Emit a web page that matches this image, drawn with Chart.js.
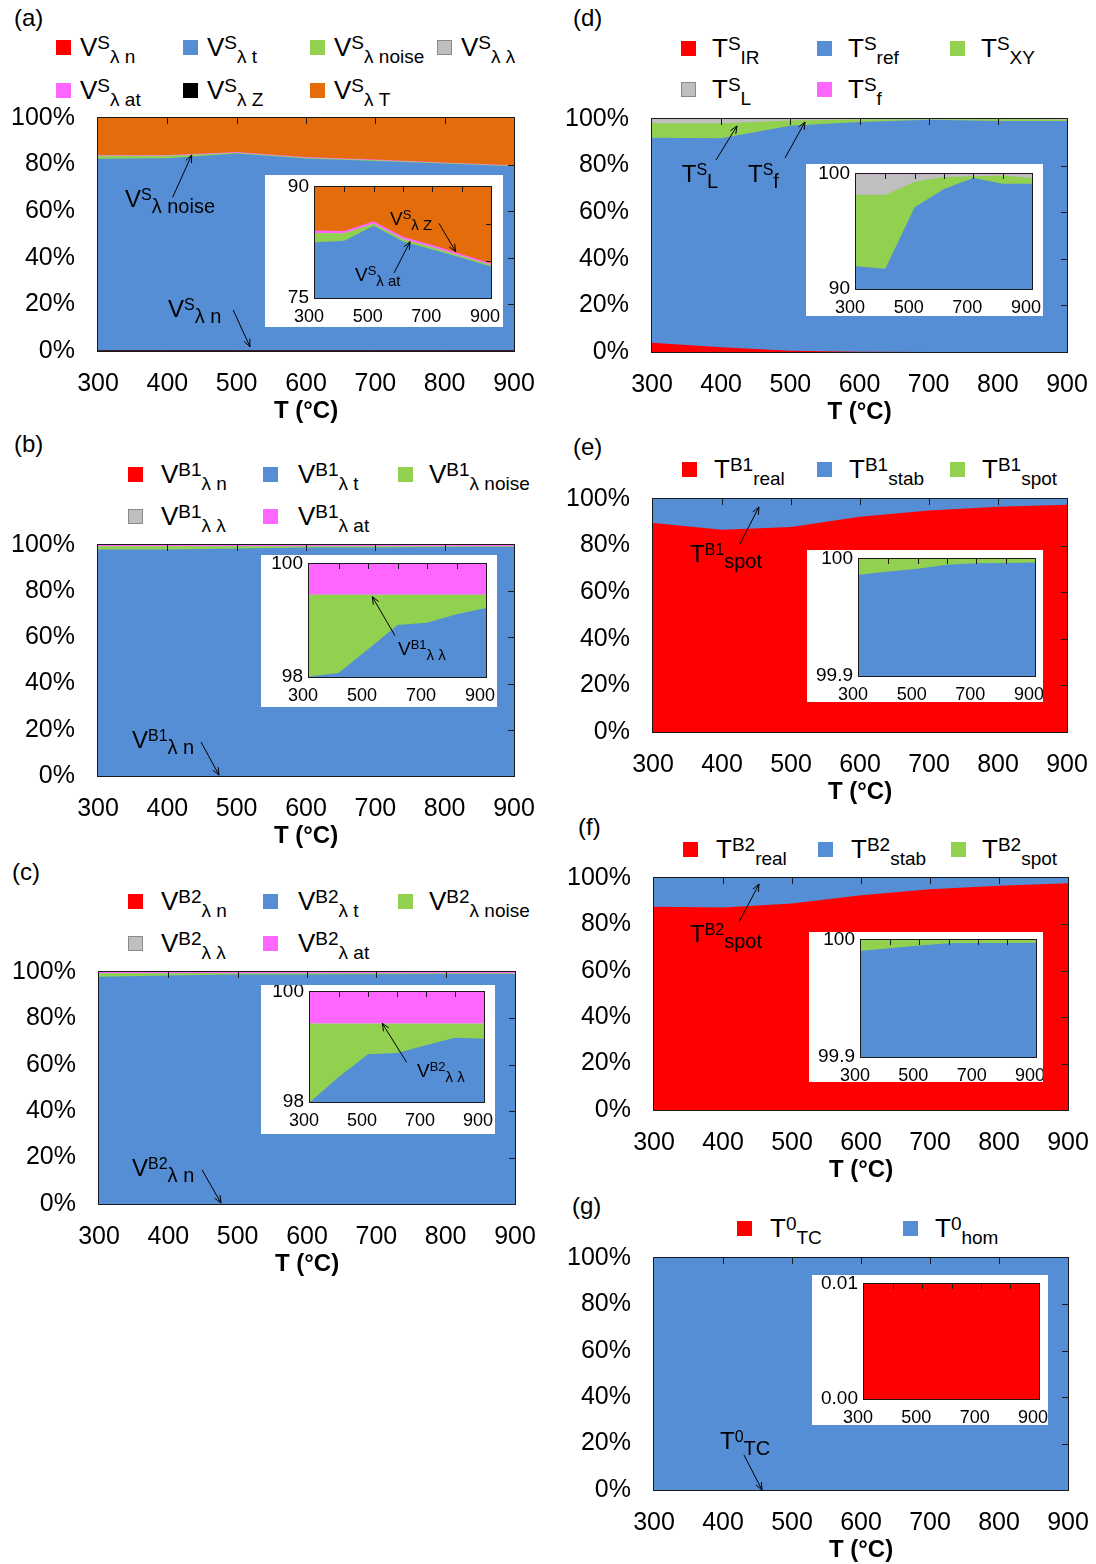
<!DOCTYPE html>
<html>
<head>
<meta charset="utf-8">
<script src="https://cdn.jsdelivr.net/npm/chart.js@4.4.1/dist/chart.umd.min.js"></script>
<style>
  body { margin: 0; width: 1096px; height: 1564px; position: relative; background: #fff; overflow: hidden;
         font-family: "Liberation Sans", Arial, sans-serif; color: #000; }
  canvas { position: absolute; }
  .t { position: absolute; white-space: nowrap; font-size: 26px; line-height: 26px; }
  .t .p { position: relative; top: -7.5px; font-size: 19px; }
  .t .b { position: relative; top: 6.5px; font-size: 19px; }
  .sq { position: absolute; width: 13px; height: 13px; border: 1px solid; }
  .tag { position: absolute; font-size: 24px; line-height: 24px; }
</style>
</head>
<body>
<script>
const FAM = '"Liberation Sans", Arial, sans-serif';

const temps = [300, 400, 500, 600, 700, 800, 900];
const tempLabels = ['300', '400', '500', '600', '700', '800', '900'];
const insetTempLabels = ['300', '', '500', '', '700', '', '900'];
const pctTicks = [0, 20, 40, 60, 80, 100];
const pctLabels = ['0%', '20%', '40%', '60%', '80%', '100%'];

// (a) V^S components, % of total
const vsN     = [0.2, 0.2, 0.2, 0.2, 0.2, 0.2, 0.2];
const vsT     = [82.3, 82.5, 84.5, 82.4, 81.3, 80.2, 79.0];
const vsNoise = [1.2, 1.0, 0.3, 0.3, 0.3, 0.2, 0.2];
const vsLL    = [0.02, 0.02, 0.02, 0.02, 0.02, 0.02, 0.02];
const vsAt    = [0.35, 0.3, 0.3, 0.3, 0.3, 0.25, 0.2];
const vsZ     = [0.05, 0.05, 0.05, 0.05, 0.05, 0.05, 0.05];
const vsTT    = [15.88, 15.93, 14.63, 16.73, 17.83, 19.08, 20.33];

// (b) V^B1
const vb1N     = [0.05, 0.05, 0.05, 0.05, 0.05, 0.05, 0.05];
const vb1T     = [97.96, 98.02, 98.44, 98.87, 98.91, 99.06, 99.17];
const vb1Noise = [1.445, 1.385, 0.965, 0.535, 0.495, 0.345, 0.235];
const vb1LL    = [0.005, 0.005, 0.005, 0.005, 0.005, 0.005, 0.005];
const vb1At    = [0.54, 0.54, 0.54, 0.54, 0.54, 0.54, 0.54];

// (c) V^B2
const vb2N     = [0.05, 0.05, 0.05, 0.05, 0.05, 0.05, 0.05];
const vb2T     = [97.95, 98.41, 98.82, 98.84, 98.98, 99.12, 99.10];
const vb2Noise = [1.425, 0.965, 0.555, 0.535, 0.395, 0.255, 0.275];
const vb2LL    = [0.005, 0.005, 0.005, 0.005, 0.005, 0.005, 0.005];
const vb2At    = [0.57, 0.57, 0.57, 0.57, 0.57, 0.57, 0.57];

// (d) T^S
const tsIR  = [4.0, 2.0, 0.5, 0.1, 0.05, 0.02, 0.01];
const tsRef = [87.97, 89.77, 96.6, 98.6, 99.6, 99.14, 99.15];
const tsXY  = [6.23, 6.4, 2.23, 1.04, 0.15, 0.72, 0.49];
const tsL   = [1.78, 1.81, 0.65, 0.24, 0.18, 0.10, 0.33];
const tsF   = [0.02, 0.02, 0.02, 0.02, 0.02, 0.02, 0.02];

// (e) T^B1
const tb1Real = [89.7, 86.8, 88.0, 92.4, 95.1, 96.7, 97.5];
const tb1Stab = [10.2865, 13.1894, 11.9917, 7.5951, 4.8963, 3.2966, 2.4971];
const tb1Spot = [0.0135, 0.0106, 0.0083, 0.0049, 0.0037, 0.0034, 0.0029];

// (f) T^B2
const tb2Real = [87.6, 87.3, 89.0, 92.6, 95.2, 96.7, 97.7];
const tb2Stab = [12.3909, 12.6929, 10.9954, 7.3972, 4.7974, 3.2974, 2.2977];
const tb2Spot = [0.0091, 0.0071, 0.0046, 0.0028, 0.0026, 0.0026, 0.0023];

// (g) T^0
const t0TC  = [0.02, 0.02, 0.02, 0.02, 0.02, 0.02, 0.02];
const t0Hom = [99.98, 99.98, 99.98, 99.98, 99.98, 99.98, 99.98];

// inset y ticks
const insetTicksA = [75, 80, 85, 90];   const insetLabelsA = ['75', '', '', '90'];
const insetTicksB = [98, 100];          const insetLabelsB = ['98', '100'];
const insetTicksD = [90, 100];          const insetLabelsD = ['90', '100'];
const insetTicksE = [99.9, 100];        const insetLabelsE = ['99.9', '100'];
const insetTicksG = [0, 0.01];          const insetLabelsG = ['0.00', '0.01'];

const RED = '#ff0000', BLUE = '#558ed5', GREEN = '#92d050', GREY = '#bfbfbf',
      PINK = '#ff66ff', BLACK = '#000000', ORANGE = '#e46c0a';

const panels = [
  { tag: '(a)', tagAt: [14, 26], plot: [98, 118, 514, 351],
    series: [['V', 'S', 'λ n', vsN, RED], ['V', 'S', 'λ t', vsT, BLUE], ['V', 'S', 'λ noise', vsNoise, GREEN],
             ['V', 'S', 'λ λ', vsLL, GREY], ['V', 'S', 'λ at', vsAt, PINK], ['V', 'S', 'λ Z', vsZ, BLACK, 'line'],
             ['V', 'S', 'λ T', vsTT, ORANGE]],
    legend: [[56, 40, 80], [183, 40, 207], [310, 40, 334], [437, 40, 461],
             [56, 83, 80], [183, 83, 207], [310, 83, 334]],
    notes: [{ s: ['V', 'S', 'λ noise'], at: [338.9, 61.8], from: [407.7, 66.0], to: [435.1, 84.1] },
            { s: ['V', 'S', 'λ n'], at: [401, 14.6], from: [495, 17.6], to: [519.2, 1.8] }],
    inset: { box: [265, 175, 503, 327], plot: [315, 187, 491, 298], ticks: insetTicksA, labels: insetLabelsA,
             notes: [{ s: ['V', 'S', 'λ Z'], at: [555.7, 84.86], from: [722.7, 85.09], to: [779.6, 81.26] },
                     { s: ['V', 'S', 'λ at'], at: [436.4, 77.3], from: [569.3, 78.38], to: [623.9, 82.6] }] } },
  { tag: '(b)', tagAt: [14, 452], plot: [98, 545, 514, 776],
    series: [['V', 'B1', 'λ n', vb1N, RED], ['V', 'B1', 'λ t', vb1T, BLUE], ['V', 'B1', 'λ noise', vb1Noise, GREEN],
             ['V', 'B1', 'λ λ', vb1LL, GREY], ['V', 'B1', 'λ at', vb1At, PINK]],
    legend: [[128, 467, 161], [263, 467, 298], [398, 467, 429], [128, 509, 161], [263, 509, 298]],
    notes: [{ s: ['V', 'B1', 'λ n'], at: [349, 12.1], from: [448.6, 14.7], to: [474.5, 0.4] }],
    inset: { box: [261, 555, 497, 707], plot: [309, 564, 486, 677], ticks: insetTicksB, labels: insetLabelsB,
             notes: [{ s: ['V', 'B1', 'λ λ'], at: [601.7, 98.39], from: [591.5, 98.73], to: [514.6, 99.42] }] } },
  { tag: '(c)', tagAt: [12, 880], plot: [99, 972, 515, 1204],
    series: [['V', 'B2', 'λ n', vb2N, RED], ['V', 'B2', 'λ t', vb2T, BLUE], ['V', 'B2', 'λ noise', vb2Noise, GREEN],
             ['V', 'B2', 'λ λ', vb2LL, GREY], ['V', 'B2', 'λ at', vb2At, PINK]],
    legend: [[128, 894, 161], [263, 894, 298], [398, 894, 429], [128, 936, 161], [263, 936, 298]],
    notes: [{ s: ['V', 'B2', 'λ n'], at: [347.6, 12.1], from: [448.6, 14.7], to: [476, 0.4] }],
    inset: { box: [261, 985, 495, 1134], plot: [310, 992, 484, 1102], ticks: insetTicksB, labels: insetLabelsB,
             notes: [{ s: ['V', 'B2', 'λ λ'], at: [668.9, 98.455], from: [633.4, 98.72], to: [549.3, 99.43] }] } },
  { tag: '(d)', tagAt: [573, 26], plot: [652, 119, 1067, 352],
    series: [['T', 'S', 'IR', tsIR, RED], ['T', 'S', 'ref', tsRef, BLUE], ['T', 'S', 'XY', tsXY, GREEN],
             ['T', 'S', 'L', tsL, GREY], ['T', 'S', 'f', tsF, PINK]],
    legend: [[681, 41, 712], [817, 41, 848], [950, 41, 981], [681, 82, 712], [817, 82, 848]],
    notes: [{ s: ['T', 'S', 'L'], at: [343, 73.0], from: [392.5, 82.4], to: [422.9, 97.0] },
            { s: ['T', 'S', 'f'], at: [438.8, 73.0], from: [492.3, 83.3], to: [521.2, 98.7] }],
    inset: { box: [806, 164, 1043, 316], plot: [856, 174, 1032, 289], ticks: insetTicksD, labels: insetLabelsD, notes: [] } },
  { tag: '(e)', tagAt: [573, 455], plot: [653, 499, 1067, 732],
    series: [['T', 'B1', 'real', tb1Real, RED], ['T', 'B1', 'stab', tb1Stab, BLUE], ['T', 'B1', 'spot', tb1Spot, GREEN]],
    legend: [[682, 462, 714], [817, 462, 849], [950, 462, 982]],
    notes: [{ s: ['T', 'B1', 'spot'], at: [353.6, 73.0], from: [426, 80.7], to: [453.6, 96.6] }],
    inset: { box: [807, 550, 1043, 702], plot: [859, 559, 1035, 676], ticks: insetTicksE, labels: insetLabelsE, notes: [] } },
  { tag: '(f)', tagAt: [578, 835], plot: [654, 878, 1068, 1110],
    series: [['T', 'B2', 'real', tb2Real, RED], ['T', 'B2', 'stab', tb2Stab, BLUE], ['T', 'B2', 'spot', tb2Spot, GREEN]],
    legend: [[683, 842, 716], [818, 842, 851], [951, 842, 982]],
    notes: [{ s: ['T', 'B2', 'spot'], at: [352.2, 72.4], from: [423.2, 81.0], to: [452.2, 97.4] }],
    inset: { box: [809, 932, 1043, 1082], plot: [861, 940, 1036, 1057], ticks: insetTicksE, labels: insetLabelsE, notes: [] } },
  { tag: '(g)', tagAt: [572, 1214], plot: [654, 1258, 1068, 1490],
    series: [['T', '0', 'TC', t0TC, RED], ['T', '0', 'hom', t0Hom, BLUE]],
    legend: [[737, 1221, 770], [903, 1221, 935]],
    notes: [{ s: ['T', '0', 'TC'], at: [395.7, 17.7], from: [430.4, 15.1], to: [456.5, 0] }],
    inset: { box: [812, 1275, 1048, 1425], plot: [864, 1284, 1039, 1399], ticks: insetTicksG, labels: insetLabelsG, notes: [] } }
];

Chart.defaults.font.family = FAM;
Chart.defaults.color = '#000';

function makeCanvas(l, t, w, h) {
  const c = document.createElement('canvas');
  c.width = w; c.height = h;
  c.style.left = l + 'px'; c.style.top = t + 'px';
  c.style.width = w + 'px'; c.style.height = h + 'px';
  document.body.appendChild(c);
  return c;
}

// sz = [main, sup, sub, sup shift, sub shift]
function rich(ctx, x, y, parts, sz) {
  const [sym, sup, sub] = parts;
  ctx.fillStyle = '#000'; ctx.textAlign = 'left'; ctx.textBaseline = 'alphabetic';
  ctx.font = sz[0] + 'px ' + FAM; ctx.fillText(sym, x, y); x += ctx.measureText(sym).width;
  ctx.font = sz[1] + 'px ' + FAM; ctx.fillText(sup, x, y + sz[3]); x += ctx.measureText(sup).width;
  ctx.font = sz[2] + 'px ' + FAM; ctx.fillText(sub, x, y + sz[4]);
}

function arrow(ctx, x1, y1, x2, y2) {
  const a = Math.atan2(y2 - y1, x2 - x1), h = 8;
  ctx.strokeStyle = '#000'; ctx.lineWidth = 1;
  ctx.beginPath();
  ctx.moveTo(x1, y1); ctx.lineTo(x2, y2);
  ctx.moveTo(x2 - h * Math.cos(a - 0.4), y2 - h * Math.sin(a - 0.4));
  ctx.lineTo(x2, y2);
  ctx.lineTo(x2 - h * Math.cos(a + 0.4), y2 - h * Math.sin(a + 0.4));
  ctx.stroke();
}

// frame, inward ticks on top/right edges, annotations
function deco(o) {
  return {
    id: 'deco',
    beforeDraw(chart) {
      if (!o.bg) return;
      chart.ctx.save(); chart.ctx.fillStyle = '#fff';
      chart.ctx.fillRect(0, 0, chart.width, chart.height); chart.ctx.restore();
    },
    afterDatasetsDraw(chart) {
      const { ctx, chartArea: a, scales: { x, y } } = chart;
      ctx.save();
      ctx.strokeStyle = '#1a1a1a'; ctx.lineWidth = 1;
      ctx.beginPath();
      x.ticks.forEach(t => {
        const px = Math.round(x.getPixelForValue(t.value)) + 0.5;
        if (px > a.left + 2 && px < a.right - 2) { ctx.moveTo(px, a.top); ctx.lineTo(px, a.top + o.tick); }
      });
      y.ticks.forEach(t => {
        const py = Math.round(y.getPixelForValue(t.value)) + 0.5;
        if (py > a.top + 2 && py < a.bottom - 2) { ctx.moveTo(a.right, py); ctx.lineTo(a.right - o.tick, py); }
      });
      ctx.stroke();
      ctx.strokeRect(a.left - 0.5, a.top - 0.5, a.right - a.left + 1, a.bottom - a.top + 1);
      o.notes.forEach(n => {
        rich(ctx, x.getPixelForValue(n.at[0]), y.getPixelForValue(n.at[1]), n.s, o.size);
        arrow(ctx, x.getPixelForValue(n.from[0]), y.getPixelForValue(n.from[1]),
                   x.getPixelForValue(n.to[0]), y.getPixelForValue(n.to[1]));
      });
      ctx.restore();
    }
  };
}

function datasets(series) {
  return series.map(([sym, sup, sub, vals, color, kind]) => ({
    label: sym + sup + ' ' + sub,
    data: temps.map((t, k) => ({ x: t, y: vals[k] })),
    backgroundColor: color,
    borderColor: color,
    borderWidth: kind === 'line' ? 1 : 0,
    fill: kind === 'line' ? false : 'origin',
    order: kind === 'line' ? -1 : 0,
    pointRadius: 0,
    tension: 0
  }));
}

function xAxis(labels, size, pad, height, title, offset) {
  return {
    type: 'linear', min: temps[0], max: temps[temps.length - 1],
    afterBuildTicks: s => { s.ticks = temps.map(v => ({ value: v })); },
    afterFit: s => { s.height = height; s.paddingLeft = 0; s.paddingRight = 0; },
    grid: { display: false, drawTicks: false },
    border: { display: false },
    ticks: { font: { size }, color: '#000', padding: pad, maxRotation: 0, autoSkip: false,
             labelOffset: offset, callback: (v, i) => labels[i] },
    title: title
      ? { display: true, text: title, color: '#000', font: { size: 24, weight: 'bold' }, padding: { top: 0, bottom: 1 } }
      : { display: false }
  };
}

function yAxis(ticks, labels, size, pad, width) {
  return {
    stacked: true, min: ticks[0], max: ticks[ticks.length - 1],
    afterBuildTicks: s => { s.ticks = ticks.map(v => ({ value: v })); },
    afterFit: s => { s.width = width; s.paddingTop = 0; s.paddingBottom = 0; },
    grid: { display: false, drawTicks: false },
    border: { display: false },
    ticks: { font: { size }, color: '#000', padding: pad, autoSkip: false, callback: (v, i) => labels[i] }
  };
}

function build(canvas, series, scales, padding, plugin) {
  new Chart(canvas.getContext('2d'), {
    type: 'line',
    data: { datasets: datasets(series) },
    options: {
      responsive: false, animation: false, events: [],
      layout: { padding },
      plugins: { legend: { display: false }, tooltip: { enabled: false } },
      scales
    },
    plugins: [plugin]
  });
}

function addText(cls, x, top, html) {
  const d = document.createElement('div');
  d.className = cls; d.style.left = x + 'px'; d.style.top = top + 'px';
  d.innerHTML = html;
  document.body.appendChild(d);
}

panels.forEach(p => {
  addText('tag', p.tagAt[0], p.tagAt[1] - 20, p.tag);
  p.series.forEach(([sym, sup, sub, , color], i) => {
    const [sx, sy, tx] = p.legend[i];
    const sq = document.createElement('div');
    sq.className = 'sq';
    sq.style.left = sx + 'px'; sq.style.top = sy + 'px';
    sq.style.background = color;
    sq.style.borderColor = color === GREY ? '#8a8a8a' : color;
    document.body.appendChild(sq);
    // text baseline sits ~16px below the square top
    addText('t', tx, sy + 16 - 22, `${sym}<span class="p">${sup}</span><span class="b">${sub}</span>`);
  });

  // main chart
  const [L, T, R, B] = p.plot;
  const yW = 95, padT = 20, padR = 28, xH = 76;
  const main = makeCanvas(L - yW, T - padT, R - L + yW + padR, B - T + padT + xH);
  build(main, p.series,
    { x: xAxis(tempLabels, 25, 18, xH, 'T (°C)', 0), y: yAxis(pctTicks, pctLabels, 25, 23, yW) },
    { top: padT, right: padR, left: 0, bottom: 0 },
    deco({ tick: 6, notes: p.notes, size: [24, 16, 20, -7, 6], bg: false }));

  // inset
  const q = p.inset;
  const [bx0, by0, bx1, by1] = q.box, [il, it, ir, ib] = q.plot;
  const ins = makeCanvas(bx0, by0, bx1 - bx0, by1 - by0);
  build(ins, p.series,
    { x: xAxis(insetTempLabels, 18, 8, by1 - ib, null, -6), y: yAxis(q.ticks, q.labels, 19, 6, il - bx0) },
    { top: it - by0, right: bx1 - ir, left: 0, bottom: 0 },
    deco({ tick: 5, notes: q.notes, size: [19, 13, 15, -6, 5], bg: true }));
});
</script>
</body>
</html>
